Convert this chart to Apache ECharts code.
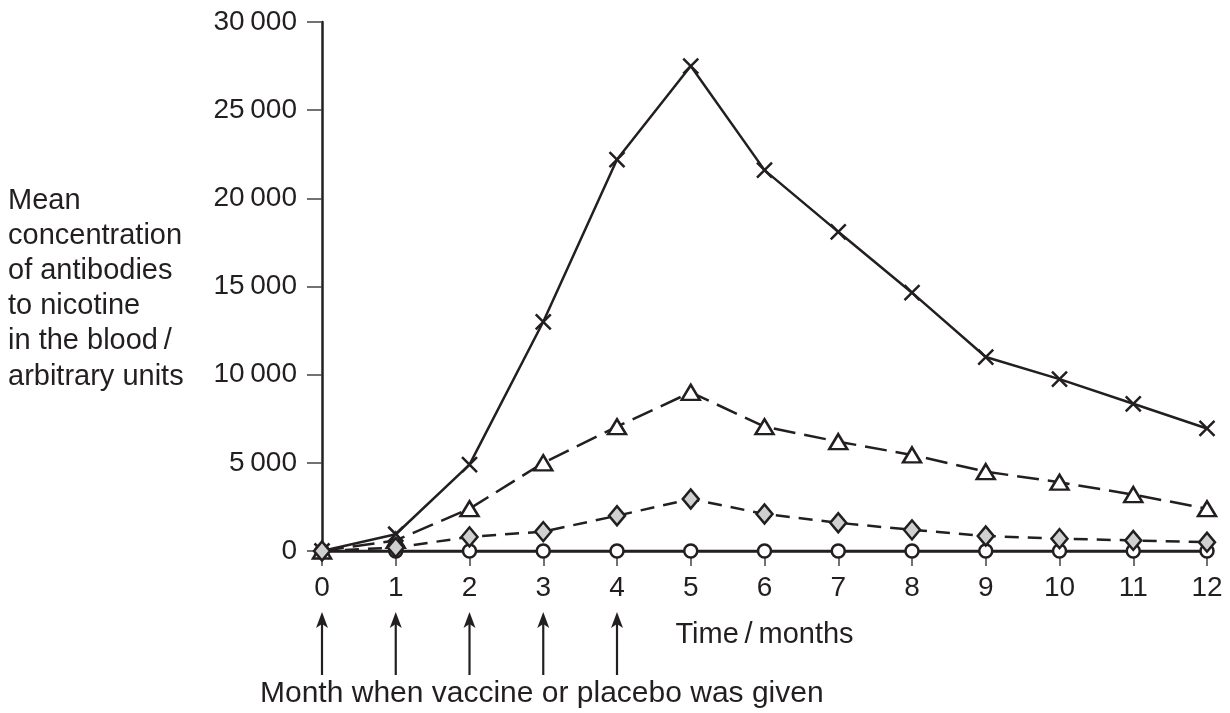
<!DOCTYPE html>
<html>
<head>
<meta charset="utf-8">
<script src="https://cdn.jsdelivr.net/npm/echarts@6/dist/echarts.min.js"></script>
<style>
html,body{margin:0;padding:0;background:#fff;}
#chart{width:1230px;height:713px;}
</style>
</head>
<body>
<div id="chart"></div>
<script>
// ---- data ----
const months = [0, 1, 2, 3, 4, 5, 6, 7, 8, 9, 10, 11, 12];
const doseMonths = [0, 1, 2, 3, 4];
const crossValues    = [0, 950, 4900, 13000, 22200, 27500, 21600, 18100, 14650, 11000, 9750, 8350, 6950];
const triangleValues = [0, 600, 2400, 5000, 7050, 9000, 7050, 6200, 5450, 4500, 3900, 3200, 2400];
const diamondValues  = [0, 200, 800, 1100, 2000, 2950, 2100, 1600, 1200, 850, 700, 600, 500];
const circleValues   = [0, 0, 0, 0, 0, 0, 0, 0, 0, 0, 0, 0, 0];
const yTicks = [0, 5000, 10000, 15000, 20000, 25000, 30000];
const yTitle = 'Mean\nconcentration\nof antibodies\nto nicotine\nin the blood\u2009/\narbitrary units';
const xTitle = 'Time\u2009/\u2009months';
const doseLabel = 'Month when vaccine or placebo was given';

const INK = '#231f20';
const FONT = 'Liberation Sans, Arial, Helvetica, sans-serif';

function pairs(vals) { return months.map((m, i) => [m, vals[i]]); }
function fmt(v) { return String(v).replace(/\B(?=(\d{3})+(?!\d))/g, '\u2009'); }

const chart = echarts.init(document.getElementById('chart'), null, {renderer: 'canvas'});
chart.setOption({
  animation: false,
  backgroundColor: '#fff',
  textStyle: {fontFamily: FONT, color: INK},
  grid: {left: 322, right: 23, top: 22, bottom: 162, containLabel: false},
  title: [
    {text: yTitle, left: 3, top: 178,
     textStyle: {fontFamily: FONT, fontSize: 29, fontWeight: 'normal', color: INK, lineHeight: 35.2}},
    {text: doseLabel, left: 255, top: 674,
     textStyle: {fontFamily: FONT, fontSize: 30, fontWeight: 'normal', color: INK}}
  ],
  xAxis: {
    type: 'value', min: 0, max: 12, interval: 1,
    name: xTitle, nameLocation: 'middle', nameGap: 69,
    nameTextStyle: {fontFamily: FONT, fontSize: 29, color: INK},
    axisLine: {show: true, onZero: false, lineStyle: {color: INK, width: 2.5}},
    axisTick: {show: true, length: 15, lineStyle: {color: '#444', width: 1.5}},
    axisLabel: {margin: 23, fontFamily: FONT, fontSize: 28, color: INK},
    splitLine: {show: false}
  },
  yAxis: {
    type: 'value', min: 0, max: 30000, interval: 5000,
    axisLine: {show: true, lineStyle: {color: INK, width: 2.5}},
    axisTick: {show: true, length: 15, lineStyle: {color: '#444', width: 1.5}},
    axisLabel: {margin: 25, fontFamily: FONT, fontSize: 28, color: INK,
      formatter: v => yTicks.includes(v) ? fmt(v) : ''},
    splitLine: {show: false}
  },
  series: [
    {
      name: 'Placebo', type: 'line', data: pairs(circleValues),
      symbol: 'circle', symbolSize: 13, showSymbol: true,
      lineStyle: {color: INK, width: 2.5},
      itemStyle: {color: '#fff', borderColor: INK, borderWidth: 2.5}, z: 2
    },
    {
      name: 'Cross', type: 'line', data: pairs(crossValues),
      symbol: 'path://M0 0L10 10M10 0L0 10', symbolSize: 15, showSymbol: true,
      lineStyle: {color: INK, width: 2.5},
      itemStyle: {color: 'none', borderColor: INK, borderWidth: 2.5}, z: 3
    },
    {
      name: 'Triangle', type: 'line', data: pairs(triangleValues),
      symbol: 'triangle', symbolSize: [18, 15], showSymbol: true,
      lineStyle: {color: INK, width: 2.5, type: [22, 9]},
      itemStyle: {color: '#fff', borderColor: INK, borderWidth: 2.5}, z: 4
    },
    {
      name: 'Diamond', type: 'line', data: pairs(diamondValues),
      symbol: 'diamond', symbolSize: [16, 19], showSymbol: true,
      lineStyle: {color: INK, width: 2.5, type: [14, 9]},
      itemStyle: {color: '#cfd0d1', borderColor: INK, borderWidth: 2.5}, z: 5
    },
    {
      name: 'Dose', type: 'custom', clip: false, silent: true,
      data: doseMonths.map(m => [m, 0]),
      renderItem: function (params, api) {
        const p = api.coord([api.value(0), 0]);
        const x = p[0], y0 = p[1];
        return {
          type: 'group',
          children: [
            {type: 'line', shape: {x1: x, y1: y0 + 70, x2: x, y2: y0 + 124},
             style: {stroke: INK, lineWidth: 2.2}},
            {type: 'polygon', shape: {points: [[x, y0 + 61], [x - 6, y0 + 77], [x, y0 + 73], [x + 6, y0 + 77]]},
             style: {fill: INK}}
          ]
        };
      },
      z: 1
    }
  ]
});
</script>
</body>
</html>
